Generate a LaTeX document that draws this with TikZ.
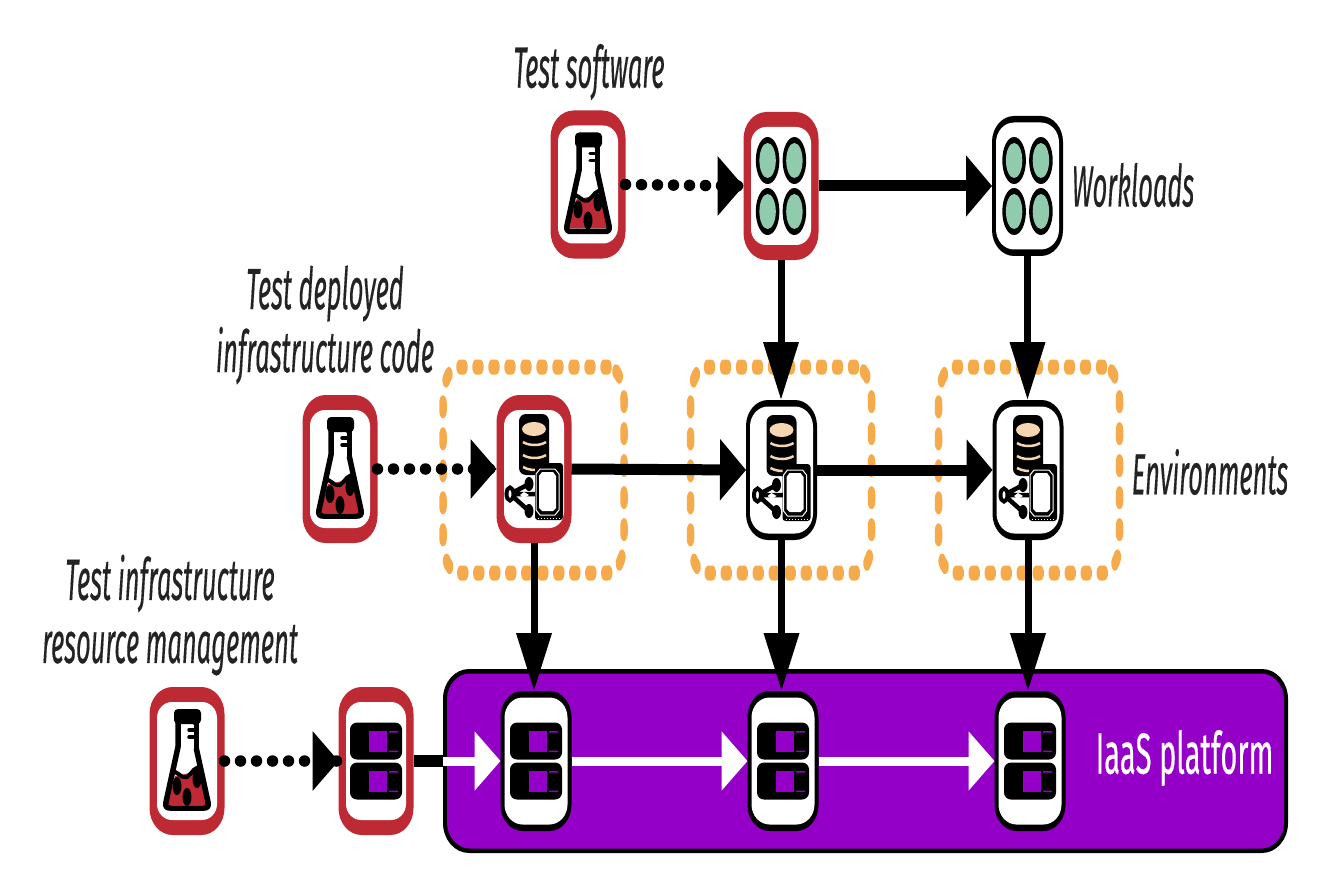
\documentclass[tikz,border=0pt]{standalone}
\usepackage{fontspec}
\setmainfont{Fira Sans}
\newfontfamily\labfont[FakeBold=0.5]{Fira Sans}
\usetikzlibrary{arrows.meta}
\definecolor{tred}{RGB}{190,42,52}
\definecolor{tpurple}{RGB}{148,0,200}
\definecolor{torange}{RGB}{245,170,75}
\definecolor{tgreen}{RGB}{143,203,172}
\definecolor{tpeach}{RGB}{246,214,176}
\definecolor{tink}{RGB}{35,35,35}
\newcommand{\sq}[1]{\scalebox{.44}[1]{#1}}
\newcommand{\sqw}[1]{\scalebox{.5}[1]{#1}}
% rounded box with elliptical corners: half width, half height, rx, ry
\newcommand{\rrbox}[5]{\fill[#1] ({#2-#4},-#3) arc[start angle=-90,end angle=0,x radius=#4,y radius=#5] -- (#2,{#3-#5}) arc[start angle=0,end angle=90,x radius=#4,y radius=#5] -- ({-#2+#4},#3) arc[start angle=90,end angle=180,x radius=#4,y radius=#5] -- (-#2,{-#3+#5}) arc[start angle=180,end angle=270,x radius=#4,y radius=#5] -- cycle;}
\tikzset{
 redtile/.style={minimum width=75pt,minimum height=148pt,inner sep=0pt,outer sep=0pt},
 blacktile/.style={minimum width=71pt,minimum height=140pt,inner sep=0pt,outer sep=0pt},
 platform/.style={minimum width=845pt,minimum height=184pt,inner sep=0pt,outer sep=0pt},
 envbox/.style={draw=torange,line width=15pt,line cap=round,dash pattern=on 8pt off 24pt,rounded corners=32pt,minimum width=362pt,minimum height=206pt,inner sep=0pt},
 lab/.style={font=\labfont\fontsize{58}{63}\selectfont\itshape,text=tink,align=center,inner sep=0pt},
 hline/.style={line width=11pt,-{Triangle[length=26pt,width=60pt]}},
 vline/.style={line width=7pt,-{Triangle[length=58pt,width=34pt]}},
 dotline/.style={line width=11.5pt,line cap=round,dash pattern=on 0pt off 16pt},
 redframe/.pic={\rrbox{tred}{37.5}{74}{23}{27}\rrbox{white}{30}{59}{15}{16}},
 blackframe/.pic={\rrbox{black}{35.5}{70}{22}{26}\rrbox{white}{31.5}{63.5}{18}{20}},
 iaasframe/.pic={\rrbox{black}{422.5}{92}{26}{30}\rrbox{tpurple}{418.5}{87.5}{23}{26}},
 flask/.pic={
  \fill[tred] (-12,15) -- (3,12) -- (14,8) -- (20,44) -- (-20,44) -- cycle;
  \draw[black,line width=5.5pt,line join=round] (-9,-38) -- (-9,-14) -- (-21,41) .. controls (-22,46) and (-20,47) .. (-17,47) -- (17,47) .. controls (20,47) and (22,46) .. (21,41) -- (9,-14) -- (9,-38);
  \fill[black,rounded corners=4pt] (-13,-52) rectangle (14,-37);
  \fill[white] (-6,-36) rectangle (6.5,-12);
  \draw[black,line width=4pt] (-16,12) .. controls (-10,7) and (-8,18) .. (0,16) .. controls (6,12) and (8,3) .. (15,8);
  \fill[black] (-10,25) ellipse [x radius=4.5,y radius=9] (0,36) ellipse [x radius=4.5,y radius=9] (10,18) ellipse [x radius=4.5,y radius=9];
  \draw[black,line width=3.5pt,line cap=round] (2,-31) -- (8,-31) (2,-24) -- (8,-24);
 },
 pods/.pic={
  \foreach \px in {-13.4,13.4}\foreach \py in {-25.5,25.5}{
   \fill[black] (\px,\py) ellipse [x radius=11.8,y radius=23.5];
   \fill[tgreen] (\px,\py) ellipse [x radius=8.2,y radius=17.5];
  }
 },
 envicon/.pic={
  \fill[black,rounded corners=7pt] (-15,-55) rectangle (15,6);
  \fill[tpeach] (0,-40) ellipse [x radius=12,y radius=7];
  \draw[tpeach,line width=2.5pt] (-11,-27) .. controls (-5,-23) and (6,-23) .. (12,-27);
  \draw[tpeach,line width=2.5pt] (-11,-14) .. controls (-5,-10) and (6,-10) .. (12,-14);
  \draw[tpeach,line width=2.5pt] (-11,-2) .. controls (-6,1) and (2,2) .. (8,0);
  \draw[black,line width=4.5pt] (-24,25) -- (-5,15) (-24,25) -- (-5,42) (-24,25) -- (3,25);
  \draw[black,line width=4pt,fill=white] (-24,25) ellipse [x radius=3.5,y radius=6.5];
  \fill[black] (-5,15) ellipse [x radius=4.5,y radius=7] (-5,42) ellipse [x radius=4.5,y radius=7];
  \fill[white] (-14,26) -- (-10,23) -- (-5,26) -- (-10,29) -- cycle;
  \fill[black,rounded corners=3pt] (1,-6) -| (29,51) -| cycle;
  \draw[white,line width=1pt] (6,0) -- (21,0) -- (25,5) -- (25,41) -- (21,46) -- (6,46) -- (2,41) -- (2,5) -- cycle;
  \fill[white] (8,3) -- (19,3) -- (22,7) -- (22,39) -- (19,42) -- (8,42) -- (5,39) -- (5,7) -- cycle;
  \draw[white,line width=.8pt,dash pattern=on 1pt off 2pt] (4,49) -- (27,49);
 },
 serverbar/.pic={
  \fill[black,rounded corners=7pt] (-26,-18.5) rectangle (26,18.5);
  \fill[tpurple] (-7,-10) rectangle (11,11);
  \fill[tpurple] (13,-10) rectangle (22,-8.5) (13,9.5) rectangle (22,11);
 },
 servers/.pic={
  \pic at (0,-20) {serverbar};
  \pic at (0,20) {serverbar};
 },
}
\begin{document}
\begin{tikzpicture}[x=1pt,y=-1pt]
\useasboundingbox (0,0) rectangle (1332,893);
\fill[white] (0,0) rectangle (1332,893);

\node[platform] (iaas) at (865.5,761) {};
\pic at (iaas) {iaasframe};
\begin{scope}[transform canvas={xscale=.5}]
\node[envbox] (box1) at (1067,470) {};
\node[envbox] (box2) at (1562,470) {};
\node[envbox] (box3) at (2058,470) {};
\end{scope}

\node[redtile] (f1) at (588,184.5) {};
\node[redtile] (f2) at (340,469) {};
\node[redtile] (f3) at (187,761) {};
\node[redtile] (w1) at (781,186) {};
\node[blacktile] (w2) at (1027.5,186) {};
\node[redtile] (e1) at (534,469) {};
\node[blacktile] (e2) at (781.5,470) {};
\node[blacktile] (e3) at (1028,470) {};
\node[redtile] (s0) at (376,761) {};
\node[blacktile] (s1) at (536,761) {};
\node[blacktile] (s2) at (783,761) {};
\node[blacktile] (s3) at (1030,761) {};

\foreach \n in {f1,f2,f3,w1,e1,s0} \pic at (\n) {redframe};
\foreach \n in {w2,e2,e3,s1,s2,s3} \pic at (\n) {blackframe};
\foreach \n in {f1,f2,f3} \pic at (\n) {flask};
\foreach \n in {w1,w2} \pic at (\n) {pods};
\foreach \n in {e1,e2,e3} \pic at (\n) {envicon};
\foreach \n in {s0,s1,s2,s3} \pic at (\n) {servers};

% dotted test links
\draw[dotline] (f1.east) -- (w1.west);
\draw[dotline] (f2.east) -- (e1.west);
\draw[dotline] (f3.east) -- (s0.west);
\fill[black] (w1.west) -- ++(-26,-30) -- ++(0,60) -- cycle;
\fill[black] (e1.west) -- ++(-26,-30) -- ++(0,60) -- cycle;
\fill[black] (s0.west) -- ++(-26,-30) -- ++(0,60) -- cycle;

% solid horizontal
\draw[hline] (w1.east) -- (w2.west);
\draw[hline] (e1.east) -- (e2.west);
\draw[hline] (e2.east) -- (e3.west);

% vertical
\draw[vline] (w1.south) -- (w1.south |- e2.north);
\draw[vline] (w2.south) -- (w2.south |- e3.north);
\draw[vline] (e1.south) -- (e1.south |- s1.north);
\draw[vline] (e2.south) -- (e2.south |- s2.north);
\draw[vline] (e3.south) -- (e3.south |- s3.north);

% platform links
\draw[black,line width=12pt] (s0.east) -- (iaas.west |- s0.east);
\draw[white,line width=9pt,-{Triangle[length=26pt,width=58pt]}] (iaas.west |- s0.east) -- (s1.west);
\draw[white,line width=9pt,-{Triangle[length=26pt,width=58pt]}] (s1.east) -- (s2.west);
\draw[white,line width=9pt,-{Triangle[length=26pt,width=58pt]}] (s2.east) -- (s3.west);

% labels
\node[lab] (l1) at (589,72) {\sq{Test software}};
\node[lab] (l2) at (1133,185) {\sq{Workloads}};
\node[lab] (l3) at (325,325) {\sq{Test deployed}\\\sq{infrastructure code}};
\node[lab] (l4) at (1210,472) {\sq{Environments}};
\node[lab] (l5) at (170,615) {\sq{Test infrastructure}\\\sq{resource management}};
\node[lab,text=white,font=\labfont\fontsize{58}{63}\selectfont] (l6) at (1184.5,758) {\sqw{IaaS platform}};
\end{tikzpicture}
\end{document}
